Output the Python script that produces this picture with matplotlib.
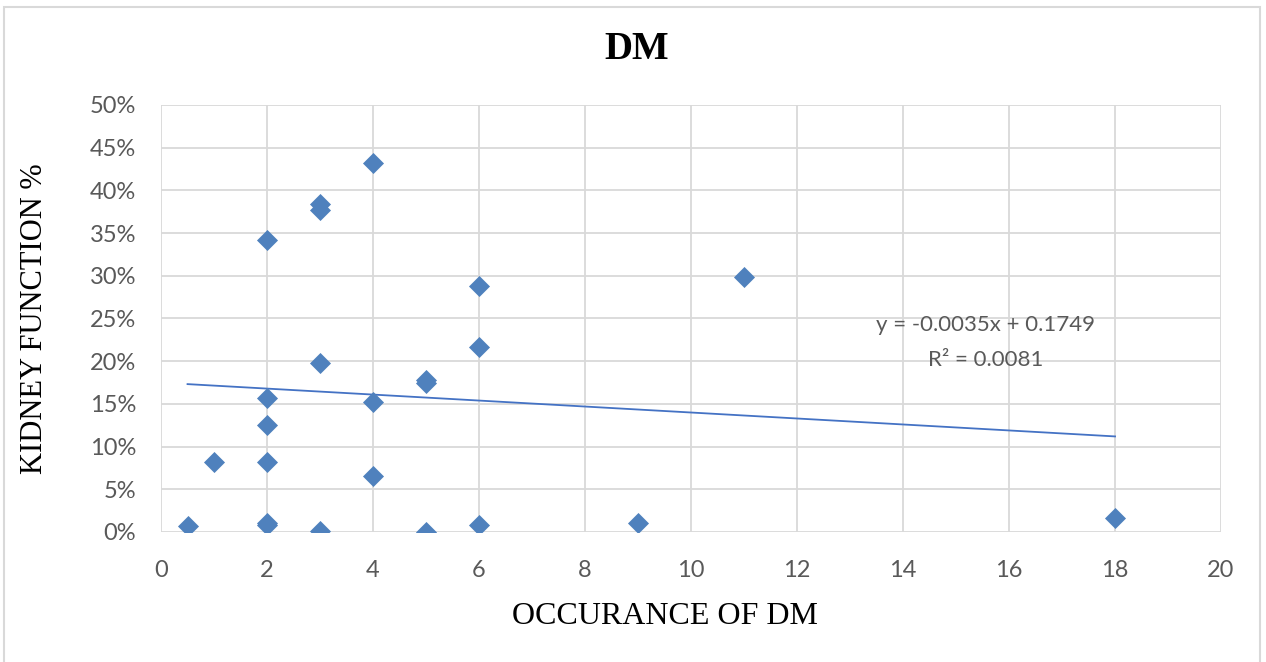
import numpy as np
import matplotlib
matplotlib.use("Agg")
import matplotlib.pyplot as plt
from matplotlib.ticker import PercentFormatter
from matplotlib.patches import Rectangle

# occurrence of DM vs kidney function (fraction)
occurance = [0.5, 1, 2, 2, 2, 2, 2, 2, 3, 3, 3, 3, 4, 4, 4, 5, 5, 5, 6, 6, 6, 9, 11, 18]
kidney_fn = [0.007, 0.082, 0.342, 0.157, 0.125, 0.082, 0.008, 0.010, 0.384, 0.377, 0.198, 0.001,
             0.432, 0.152, 0.065, 0.178, 0.175, 0.000, 0.288, 0.217, 0.008, 0.010, 0.299, 0.016]

# trendline as printed on the chart
slope = -0.0035
intercept = 0.1749
r_squared = 0.0081

x_ticks = list(range(0, 21, 2))
y_ticks = [i / 100 for i in range(0, 51, 5)]

fig = plt.figure(figsize=(12.66, 6.62), dpi=100)
ax = fig.add_axes([0.1272, 0.1964, 0.8373, 0.645])

ax.scatter(occurance, kidney_fn, marker="D", s=115, color="#4F81BD", zorder=3, linewidths=0)

xs = np.array([min(occurance), max(occurance)])
ax.plot(xs, slope * xs + intercept, color="#4472C4", lw=1.3, zorder=2)

ax.set_xlim(0, 20)
ax.set_ylim(0, 0.5)
ax.set_xticks(x_ticks)
ax.set_yticks(y_ticks)
ax.yaxis.set_major_formatter(PercentFormatter(1.0, decimals=0))
ax.grid(True, color="#D9D9D9", lw=1.3)
ax.set_axisbelow(True)
for s in ax.spines.values():
    s.set_visible(False)
ax.tick_params(length=0, labelsize=17, labelcolor="#595959")
ax.tick_params(axis="x", pad=20)
ax.tick_params(axis="y", pad=18)
for lab in ax.get_xticklabels() + ax.get_yticklabels():
    lab.set_family("Lato")

ax.text(0.4485, 1.129, "DM", transform=ax.transAxes, ha="center", va="center",
        fontsize=28, fontweight="bold", family="Liberation Serif")
ax.set_xlabel("OCCURANCE OF DM", fontsize=23, family="Liberation Serif")
ax.xaxis.set_label_coords(0.475, -0.199)
ax.xaxis.label.set_va("center")
ax.set_ylabel("KIDNEY FUNCTION %", fontsize=22, family="Liberation Serif")
ax.yaxis.set_label_coords(-0.119, 0.5)
ax.yaxis.label.set_va("center")

ax.text(15.55, 0.2424, f"y = {slope}x + {intercept}", ha="center", va="center",
        fontsize=16, color="#595959", family="Lato")
ax.text(15.55, 0.2014, f"R² = {r_squared}", ha="center", va="center",
        fontsize=16, color="#595959", family="Lato")

fig.add_artist(Rectangle((0.003, -0.05), 0.992, 1.04, transform=fig.transFigure,
                         fill=False, edgecolor="#D9D9D9", lw=1.5))

fig.savefig("out.png", dpi=100)
